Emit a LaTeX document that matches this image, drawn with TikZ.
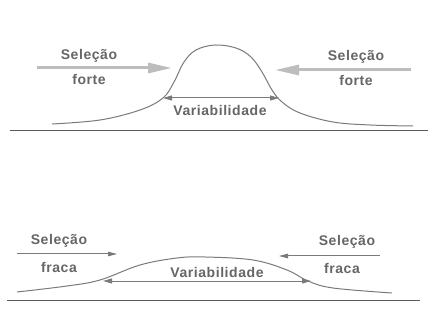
\documentclass[tikz,border=0pt]{standalone}
\usepackage{fontspec}
\newfontfamily\lblfont[LetterSpace=4]{Liberation Sans}
\usetikzlibrary{arrows.meta}
\definecolor{txtgray}{HTML}{666666}
\definecolor{curvegray}{HTML}{7A7A7A}
\definecolor{basegray}{HTML}{5A5A5A}
\definecolor{thickgray}{HTML}{BDBDBD}
\tikzset{
  lbl/.style={font=\lblfont\bfseries\fontsize{14}{16}\selectfont, text=txtgray, inner sep=0pt},
  curve/.style={draw=curvegray, line width=1pt},
  baseline/.style={draw=basegray, line width=0.9pt},
  vararrow/.style={draw=curvegray, line width=1pt, {Triangle[length=9pt,width=5pt]}-{Triangle[length=9pt,width=5pt]}},
  thinarrow/.style={draw=curvegray, line width=1pt, -{Triangle[length=9pt,width=4.5pt]}},
  thickarrow/.style={draw=thickgray, line width=3pt, -{Triangle[length=24pt,width=10pt]}}
}
\begin{document}
\begin{tikzpicture}[x=1pt,y=-1pt]
\useasboundingbox[fill=white] (0,0) rectangle (428,320);
% ---------- top panel ----------
\coordinate (tb1) at (10,130);
\coordinate (tb2) at (428,130);
\draw[baseline] (tb1) -- (tb2);
\draw[curve] plot[smooth, tension=0.6] coordinates {(52,124) (100,120) (140,110) (163,98) (174,82) (184,62) (196,50) (215,45) (236,48) (251,57) (262,72) (272,90) (282,102) (300,113) (333,122) (370,125) (413,126)};
\coordinate (tv1) at (163,98);
\coordinate (tv2) at (279,98);
\draw[vararrow] (tv1) -- (tv2);
\node[lbl] (tvar) at (220,110) {Variabilidade};
\coordinate (tl1) at (37,68);
\coordinate (tl2) at (172,68);
\draw[thickarrow] (tl1) -- (tl2);
\node[lbl] (tls) at (89,56) {Seleção};
\node[lbl] (tlf) at (89,79) {forte};
\coordinate (tr1) at (411,70);
\coordinate (tr2) at (275,70);
\draw[thickarrow] (tr1) -- (tr2);
\node[lbl] (trs) at (356,57) {Seleção};
\node[lbl] (trf) at (356,80) {forte};
% ---------- bottom panel ----------
\coordinate (bb1) at (7,300);
\coordinate (bb2) at (420,300);
\draw[baseline] (bb1) -- (bb2);
\draw[curve] plot[smooth, tension=0.6] coordinates {(17,292) (67,286) (100,280) (140,265) (177,258) (205,257) (253,260) (287,270) (308,281) (333,288) (392,293)};
\coordinate (bv1) at (103,281);
\coordinate (bv2) at (311,281);
\draw[vararrow] (bv1) -- (bv2);
\node[lbl] (bvar) at (217,272) {Variabilidade};
\coordinate (bl1) at (17,254);
\coordinate (bl2) at (117,254);
\draw[thinarrow] (bl1) -- (bl2);
\node[lbl] (bls) at (59,241) {Seleção};
\node[lbl] (blf) at (59,267) {fraca};
\coordinate (br1) at (380,256);
\coordinate (br2) at (279,256);
\draw[thinarrow] (br1) -- (br2);
\node[lbl] (brs) at (347,242) {Seleção};
\node[lbl] (brf) at (342,268) {fraca};
\end{tikzpicture}
\end{document}
